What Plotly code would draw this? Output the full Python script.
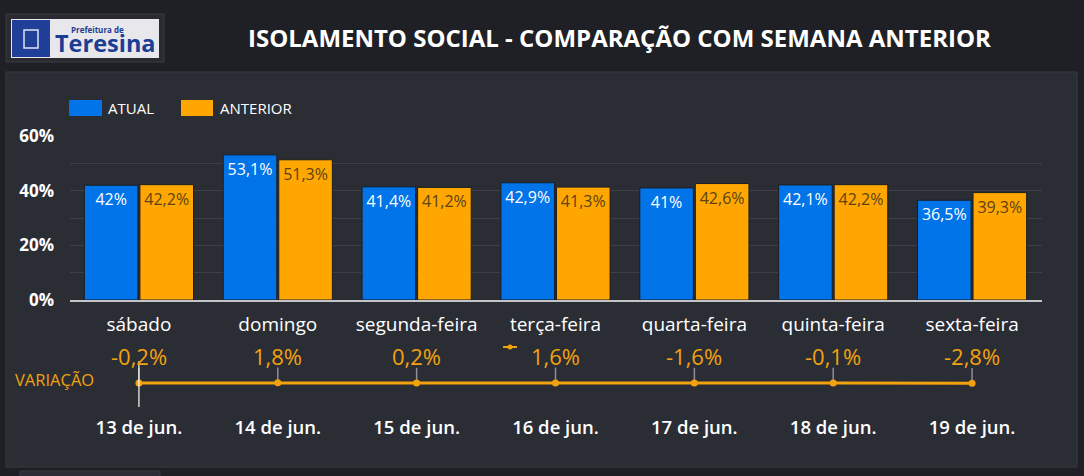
import plotly.graph_objects as go

dias = ["sábado", "domingo", "segunda-feira", "terça-feira", "quarta-feira", "quinta-feira", "sexta-feira"]
datas = ["13 de jun.", "14 de jun.", "15 de jun.", "16 de jun.", "17 de jun.", "18 de jun.", "19 de jun."]
atual = [42, 53.1, 41.4, 42.9, 41, 42.1, 36.5]
anterior = [42.2, 51.3, 41.2, 41.3, 42.6, 42.2, 39.3]
variacao = [-0.2, 1.8, 0.2, 1.6, -1.6, -0.1, -2.8]

W, H = 1084, 476
BLUE = "#0074E8"
ORANGE = "#FFA700"
LINE_OR = "#F2A20E"
BG = "#1F2025"
PANEL = "#2B2D35"
FONT = "Open Sans"


def fmt(v):
    return f"{v:g}".replace(".", ",") + "%"


def px(x):
    return x / W


def py(y):
    return 1 - y / H


def note(x, y, text, size, color="white", xanchor="center", weight=None):
    f = dict(color=color, size=size, family=FONT)
    if weight:
        f["weight"] = weight
    return dict(x=px(x), y=py(y), xref="paper", yref="paper", text=text, showarrow=False,
                xanchor=xanchor, yanchor="middle", font=f)


fig = go.Figure()

fig.add_trace(go.Bar(
    x=dias, y=atual, name="ATUAL",
    marker=dict(color=BLUE, line=dict(color="#1b1d22", width=1)),
    text=[fmt(v) for v in atual], textposition="inside", insidetextanchor="end",
    textangle=0, constraintext="none",
    textfont=dict(color="white", size=16, family=FONT),
    showlegend=False, xaxis="x", yaxis="y",
))
fig.add_trace(go.Bar(
    x=dias, y=anterior, name="ANTERIOR",
    marker=dict(color=ORANGE, line=dict(color="#1b1d22", width=1)),
    text=[fmt(v) for v in anterior], textposition="inside", insidetextanchor="end",
    textangle=0, constraintext="none",
    textfont=dict(color="#5a4317", size=16, family=FONT),
    showlegend=False, xaxis="x", yaxis="y",
))

# linha de variação
fig.add_trace(go.Scatter(
    x=datas, y=variacao, mode="lines+markers",
    line=dict(color=LINE_OR, width=3),
    marker=dict(color=LINE_OR, size=7),
    error_y=dict(type="data", symmetric=False, array=[200] * len(variacao),
                 arrayminus=[0] * len(variacao), color="#8d8f96", thickness=1.5, width=0),
    showlegend=False, xaxis="x2", yaxis="y2",
))

annotations = []
for d, v in zip(datas, variacao):
    annotations.append(dict(
        x=d, y=v, xref="x2", yref="y2", text=fmt(v), showarrow=False,
        xanchor="center", yanchor="middle",
        yshift=27, font=dict(color=LINE_OR, size=22, family=FONT),
    ))

annotations += [
    note(619, 38, "<b>ISOLAMENTO SOCIAL - COMPARAÇÃO COM SEMANA ANTERIOR</b>", 24),
    note(13, 379, "VARIAÇÃO", 16.5, color=LINE_OR, xanchor="left"),
    note(106, 108, "ATUAL", 15, xanchor="left"),
    note(218, 108, "ANTERIOR", 15, xanchor="left"),
    note(69, 29, "<b>Prefeitura de</b>", 8, color="#1b3d93", xanchor="left"),
    note(53, 43, "<b>Teresina</b>", 23.5, color="#1b3d93", xanchor="left"),
]

shapes = [
    # painel
    dict(type="rect", xref="paper", yref="paper", x0=px(6), x1=px(1077), y0=py(467), y1=py(72),
         fillcolor=PANEL, line=dict(color="#383a42", width=1), layer="below"),
    dict(type="rect", xref="paper", yref="paper", x0=px(6), x1=px(164), y0=py(62), y1=py(14),
         fillcolor="#2a2b31", line=dict(color="#3a3b42", width=1), layer="below"),
    dict(type="rect", xref="paper", yref="paper", x0=px(11), x1=px(159), y0=py(58), y1=py(19),
         fillcolor="#e8e8ec", line=dict(width=0), layer="below"),
    dict(type="rect", xref="paper", yref="paper", x0=px(12), x1=px(50), y0=py(57), y1=py(20),
         fillcolor="#1f3f99", line=dict(width=0), layer="below"),
    dict(type="rect", xref="paper", yref="paper", x0=px(24), x1=px(38), y0=py(48), y1=py(30),
         fillcolor="rgba(0,0,0,0)", line=dict(color="#dfe4f2", width=1.5)),
    dict(type="rect", xref="paper", yref="paper", x0=px(20), x1=px(160), y0=py(480), y1=py(471),
         fillcolor=PANEL, line=dict(color="#383a42", width=1), layer="below"),
    # legenda
    dict(type="rect", xref="paper", yref="paper", x0=px(69), x1=px(102), y0=py(116), y1=py(100),
         fillcolor=BLUE, line=dict(width=0)),
    dict(type="rect", xref="paper", yref="paper", x0=px(181), x1=px(213), y0=py(116), y1=py(100),
         fillcolor=ORANGE, line=dict(width=0)),
    dict(type="line", xref="paper", yref="paper", x0=px(503), x1=px(517), y0=py(347), y1=py(347),
         line=dict(color=LINE_OR, width=2)),
    dict(type="circle", xref="paper", yref="paper", x0=px(507.5), x1=px(512.5), y0=py(349.5), y1=py(344.5),
         fillcolor=LINE_OR, line=dict(width=0)),
    # cursor
    dict(type="line", xref="x2", yref="paper", x0=datas[0], x1=datas[0], y0=py(407), y1=py(361),
         line=dict(color="white", width=1.2)),
]

fig.update_layout(
    width=W, height=H,
    margin=dict(l=0, r=0, t=0, b=0, autoexpand=False),
    paper_bgcolor=BG, plot_bgcolor="rgba(0,0,0,0)",
    barmode="group", bargap=0.2, bargroupgap=0.035,
    font=dict(family=FONT, color="white"),
    xaxis=dict(domain=[px(69.5), px(1041.5)], anchor="y", showgrid=False, automargin=False,
               range=[-0.5, len(dias) - 0.5],
               showline=True, linecolor="#c4c4c8", linewidth=2,
               ticks="outside", ticklen=6, tickcolor="rgba(0,0,0,0)",
               tickfont=dict(size=19, color="white", family=FONT, weight=500)),
    yaxis=dict(domain=[py(300), py(136)], range=[0, 60], dtick=20, ticksuffix="%", automargin=False,
               showgrid=True, gridcolor="#3e4049", gridwidth=1, zeroline=False,
               minor=dict(dtick=10, showgrid=True, gridcolor="#3e4049"),
               ticks="outside", ticklen=11, tickcolor="rgba(0,0,0,0)",
               tickfont=dict(size=17, color="white", family=FONT, weight="bold")),
    xaxis2=dict(domain=[px(69.5), px(1041.5)], anchor="y2", showgrid=False, showline=False, automargin=False,
                range=[-0.5, len(datas) - 0.5],
                ticks="outside", ticklen=5, tickcolor="rgba(0,0,0,0)",
                tickfont=dict(size=18.5, color="white", family=FONT, weight=600)),
    yaxis2=dict(domain=[py(406), py(360)], range=[-300, 300], visible=False),
    annotations=annotations, shapes=shapes,
)

fig.write_html("out.html", config={"displayModeBar": False},
               post_script="document.body.style.margin='0';document.body.style.background='" + BG + "';")
